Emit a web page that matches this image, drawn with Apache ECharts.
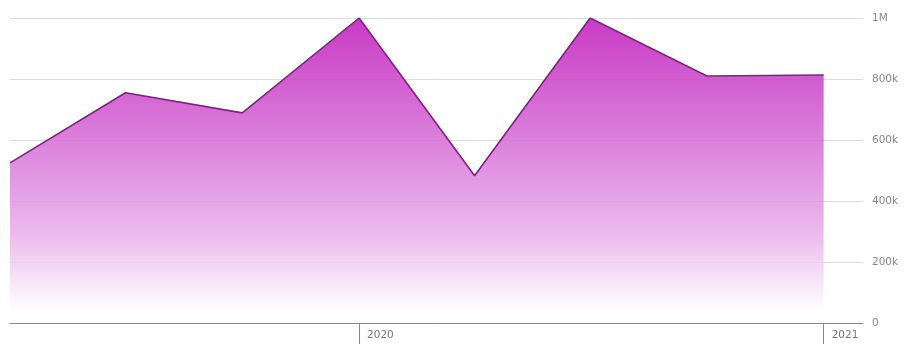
<!DOCTYPE html>
<html><head><meta charset="utf-8">
<script src="https://cdn.jsdelivr.net/npm/echarts@6/dist/echarts.min.js"></script>
<style>html,body{margin:0;padding:0;background:#fff}#c{width:906px;height:344px}</style>
</head><body><div id="c"></div>
<script>
const dates = ['2019-04-01','2019-07-01','2019-10-01','2020-01-01','2020-04-01','2020-07-01','2020-10-01','2021-01-01'];
const values = [525000, 755000, 689000, 1000000, 483000, 1000000, 810000, 813000];
const yTicks = [0, 200000, 400000, 600000, 800000, 1000000];
const yTickLabels = ['0','200k','400k','600k','800k','1M'];
const xMin = '2019-04-01', xMax = '2021-02-01';

const chart = echarts.init(document.getElementById('c'));
chart.setOption({
  animation:false,
  grid:{left:10,right:43,top:18,bottom:21,containLabel:false},
  xAxis:{type:'time',min:xMin,max:xMax,minInterval:365*24*3600*1000,
    axisLine:{lineStyle:{color:'#8a8a8a',width:1}},
    axisTick:{show:true,length:22,lineStyle:{color:'#8a8a8a'}},
    axisLabel:{color:'#777',fontFamily:'DejaVu Sans',fontSize:10.5,align:'left',margin:7,padding:[0,0,0,8],
      formatter:v=>String(new Date(v).getFullYear()), showMinLabel:false, showMaxLabel:false},
    splitLine:{show:false}},
  yAxis:{type:'value',position:'right',min:0,max:1000000,interval:200000,
    axisLine:{show:false},axisTick:{show:false},
    splitLine:{lineStyle:{color:'#dcdcdc',width:1}},
    axisLabel:{color:'#888',fontFamily:'DejaVu Sans',fontSize:10.5,margin:9,
      formatter:v=>yTickLabels[yTicks.indexOf(v)]}},
  series:[{type:'line',data:dates.map((d,i)=>[d,values[i]]),symbol:'none',
    lineStyle:{color:'#8b1a8c',width:1.6},
    areaStyle:{opacity:0.85,color:new echarts.graphic.LinearGradient(0,0,0,1,[
      {offset:0,color:'rgb(192,24,186)'},
      {offset:0.35,color:'rgb(210,96,210)'},
      {offset:0.7,color:'rgb(232,172,234)'},
      {offset:0.96,color:'rgb(255,255,255)'},
      {offset:1,color:'rgb(255,255,255)'}])}}]
});
</script></body></html>
